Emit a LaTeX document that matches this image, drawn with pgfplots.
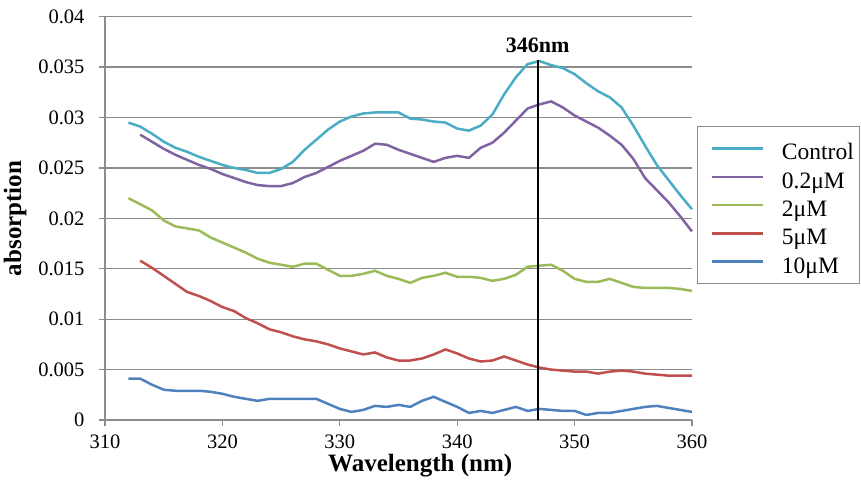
\documentclass[border=0pt]{standalone}
\usepackage{fontspec}
\setmainfont{Liberation Serif}
\usepackage{pgfplots}
\usepackage{pgfplotstable}
\pgfplotsset{compat=1.18}
\definecolor{cCtrl}{HTML}{4BACC6}
\definecolor{cP2}{HTML}{8064A2}
\definecolor{cM2}{HTML}{9BBB59}
\definecolor{cM5}{HTML}{C0504D}
\definecolor{cM10}{HTML}{4F81BD}
\definecolor{gridc}{HTML}{8C8C8C}
\pgfplotstableread{
nm  ctrl    p2      m2      m5      m10
312 0.0295  nan     0.0220  nan     0.0041
313 0.0291  0.0283  0.0214  0.0158  0.0041
314 0.0284  0.0276  0.0208  0.0151  0.0035
315 0.0276  0.0269  0.0198  0.0143  0.0030
316 0.0270  0.0263  0.0192  0.0135  0.0029
317 0.0266  0.0258  0.0190  0.0127  0.0029
318 0.0261  0.0253  0.0188  0.0123  0.0029
319 0.0257  0.0249  0.0181  0.0118  0.0028
320 0.0253  0.0244  0.0176  0.0112  0.0026
321 0.0250  0.0240  0.0171  0.0108  0.0023
322 0.0248  0.0236  0.0166  0.0101  0.0021
323 0.0245  0.0233  0.0160  0.0096  0.0019
324 0.0245  0.0232  0.0156  0.0090  0.0021
325 0.0249  0.0232  0.0154  0.0087  0.0021
326 0.0256  0.0235  0.0152  0.0083  0.0021
327 0.0268  0.0241  0.0155  0.0080  0.0021
328 0.0278  0.0245  0.0155  0.0078  0.0021
329 0.0288  0.0251  0.0149  0.0075  0.0016
330 0.0296  0.0257  0.0143  0.0071  0.0011
331 0.0301  0.0262  0.0143  0.0068  0.0008
332 0.0304  0.0267  0.0145  0.0065  0.0010
333 0.0305  0.0274  0.0148  0.0067  0.0014
334 0.0305  0.0273  0.0143  0.0062  0.0013
335 0.0305  0.0268  0.0140  0.0059  0.0015
336 0.0299  0.0264  0.0136  0.0059  0.0013
337 0.0298  0.0260  0.0141  0.0061  0.0019
338 0.0296  0.0256  0.0143  0.0065  0.0023
339 0.0295  0.0260  0.0146  0.0070  0.0018
340 0.0289  0.0262  0.0142  0.0066  0.0013
341 0.0287  0.0260  0.0142  0.0061  0.0007
342 0.0292  0.0270  0.0141  0.0058  0.0009
343 0.0303  0.0275  0.0138  0.0059  0.0007
344 0.0323  0.0285  0.0140  0.0063  0.0010
345 0.0340  0.0297  0.0144  0.0059  0.0013
346 0.0353  0.0309  0.0152  0.0055  0.0009
347 0.0356  0.0313  0.0153  0.0052  0.0011
348 0.0352  0.0316  0.0154  0.0050  0.0010
349 0.0349  0.0310  0.0148  0.0049  0.0009
350 0.0343  0.0302  0.0140  0.0048  0.0009
351 0.0334  0.0296  0.0137  0.0048  0.0005
352 0.0326  0.0290  0.0137  0.0046  0.0007
353 0.0320  0.0282  0.0140  0.0048  0.0007
354 0.0310  0.0273  0.0136  0.0049  0.0009
355 0.0292  0.0259  0.0132  0.0048  0.0011
356 0.0272  0.0240  0.0131  0.0046  0.0013
357 0.0253  0.0228  0.0131  0.0045  0.0014
358 0.0238  0.0216  0.0131  0.0044  0.0012
359 0.0223  0.0202  0.0130  0.0044  0.0010
360 0.0209  0.0187  0.0128  0.0044  0.0008
}\datatable
\begin{document}
\begin{tikzpicture}
\useasboundingbox (-105pt,-72pt) rectangle (756pt,420pt);
\begin{axis}[
  at={(0,0)}, anchor=south west,
  scale only axis, width=587pt, height=403.3pt,
  xmin=310, xmax=360, ymin=0, ymax=0.04,
  axis x line*=bottom, axis y line*=left,
  axis line style={gridc, line width=1.3pt, -},
  xtick={310,320,330,340,350,360},
  xticklabels={310,320,330,340,350,360},
  ytick={0,0.005,0.01,0.015,0.02,0.025,0.03,0.035,0.04},
  yticklabels={0,0.005,0.01,0.015,0.02,0.025,0.03,0.035,0.04},
  scaled y ticks=false,
  tick align=outside, major tick length=6pt,
  tick style={gridc, line width=1.3pt},
  ymajorgrids, grid style={gridc, line width=1.3pt},
  tick label style={font=\fontsize{20.5}{24}\selectfont, black},
  yticklabel style={xshift=-11pt},
  xticklabel style={yshift=-5pt},
  xlabel={Wavelength (nm)},
  ylabel={absorption},
  xlabel style={font=\fontsize{25}{30}\selectfont\bfseries, at={(axis description cs:0.537,-0.114)}, anchor=center},
  ylabel style={font=\fontsize{25}{30}\selectfont\bfseries, at={(axis description cs:-0.153,0.5)}, anchor=center},
  legend style={at={(rel axis cs:1.0085,0.729)}, anchor=north west,
    draw=gridc, line width=1pt, font=\fontsize{23.5}{26}\selectfont,
    inner xsep=5pt, inner ysep=9.5pt, row sep=3.3pt,
    nodes={inner xsep=1pt, inner ysep=1pt, text height=23pt, text depth=0pt, text=black}},
  legend cell align=left,
  legend image code/.code={\draw[#1, line width=2.5pt] (8pt,0pt) -- (59pt,0pt); \path (0pt,0pt) (76pt,0pt);},
  every axis plot/.append style={line width=2.5pt},
  clip=false,
]
\addplot[cCtrl, unbounded coords=jump] table[x=nm, y=ctrl] {\datatable};
\addlegendentry{Control}
\addplot[cP2, unbounded coords=jump] table[x=nm, y=p2] {\datatable};
\addlegendentry{0.2μM}
\addplot[cM2, unbounded coords=jump] table[x=nm, y=m2] {\datatable};
\addlegendentry{2μM}
\addplot[cM5, unbounded coords=jump] table[x=nm, y=m5] {\datatable};
\addlegendentry{5μM}
\addplot[cM10, unbounded coords=jump] table[x=nm, y=m10] {\datatable};
\addlegendentry{10μM}
\addplot[black, line width=1.8pt, forget plot] coordinates {(346.85,0) (346.85,0.0357)};
\node[font=\fontsize{22}{26}\selectfont\bfseries] at (axis cs:346.85,0.0372) {346nm};
\end{axis}
\end{tikzpicture}
\end{document}
